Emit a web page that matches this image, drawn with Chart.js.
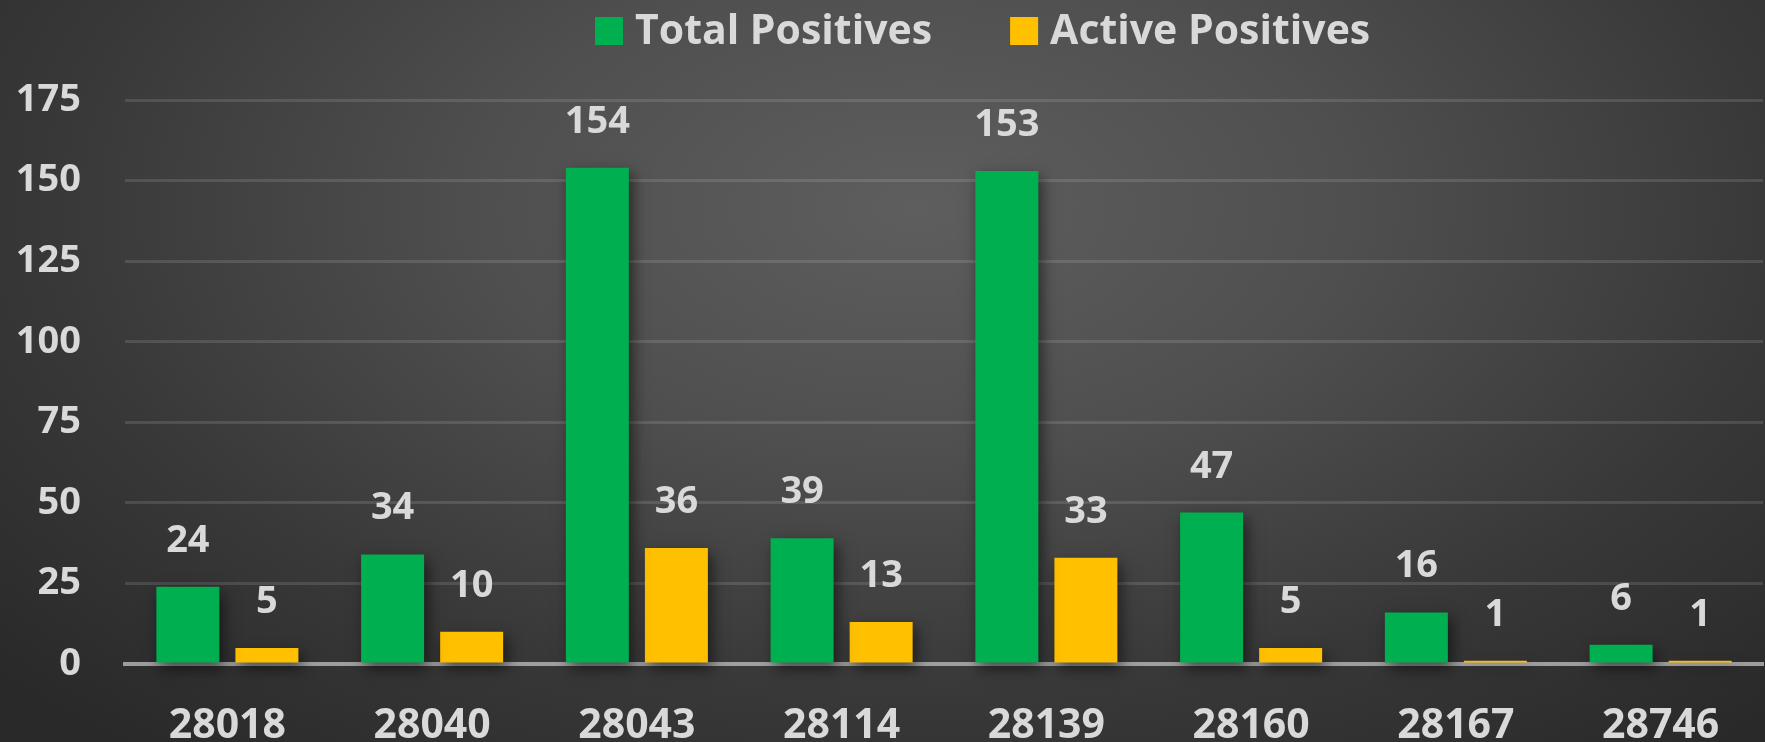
<!DOCTYPE html>
<html lang="en">
<head>
  <meta charset="UTF-8" />
  <title>Total / Active Positives</title>
  <script src="https://cdn.jsdelivr.net/npm/chart.js"></script>
  <style>
    html, body { margin: 0; padding: 0; background: #2a2a2a; }
    #fondo {
      width: 1765px;
      height: 742px;
      background: radial-gradient(ellipse 70% 95% at 52% 28%, #5e5e5e 0%, #4f4f4f 35%, #383838 70%, #292929 100%);
    }
  </style>
</head>
<body>
<div id="fondo"><canvas id="grafico" width="1765" height="742"></canvas></div>

<script>
  const zipCodes = ["28018", "28040", "28043", "28114", "28139", "28160", "28167", "28746"];
  const totalPositives = [24, 34, 154, 39, 153, 47, 16, 6];
  const activePositives = [5, 10, 36, 13, 33, 5, 1, 1];
  const yMax = 175;
  const yStep = 25;

  const FUENTE = '"Open Sans", "Noto Sans", sans-serif';
  const TEXTO = "#D9D9D9";

  // sombra de las barras + valores encima
  const sombraEtiquetas = {
    id: "sombraEtiquetas",
    beforeDatasetsDraw(chart) {
      const ctx = chart.ctx;
      ctx.save();
      ctx.shadowColor = "rgba(0,0,0,0.55)";
      ctx.shadowBlur = 14;
      ctx.shadowOffsetX = 4;
      ctx.shadowOffsetY = 6;
    },
    afterDatasetsDraw(chart) {
      const ctx = chart.ctx;
      ctx.restore();
      ctx.save();
      ctx.font = `bold 38px ${FUENTE}`;
      ctx.fillStyle = TEXTO;
      ctx.textAlign = "center";
      ctx.textBaseline = "alphabetic";
      chart.data.datasets.forEach((ds, i) => {
        chart.getDatasetMeta(i).data.forEach((bar, j) => {
          ctx.fillText(ds.data[j], bar.x, bar.y - 35);
        });
      });
      ctx.restore();
    }
  };

  const leyenda = {
    id: "leyenda",
    afterDraw(chart) {
      const ctx = chart.ctx;
      ctx.save();
      ctx.font = `bold 41px ${FUENTE}`;
      ctx.textBaseline = "alphabetic";
      let x = 595;
      chart.data.datasets.forEach(ds => {
        ctx.fillStyle = ds.backgroundColor;
        ctx.fillRect(x, 17, 28, 28);
        x += 40;
        ctx.fillStyle = TEXTO;
        ctx.fillText(ds.label, x, 44);
        x += ctx.measureText(ds.label).width + 78;
      });
      ctx.restore();
    }
  };

  new Chart(document.getElementById("grafico").getContext("2d"), {
    type: "bar",
    data: {
      labels: zipCodes,
      datasets: [
        {
          label: "Total Positives",
          data: totalPositives,
          backgroundColor: "#00B050",
          categoryPercentage: 0.772,
          barPercentage: 0.797,
          clip: false
        },
        {
          label: "Active Positives",
          data: activePositives,
          backgroundColor: "#FFC000",
          categoryPercentage: 0.772,
          barPercentage: 0.797,
          clip: false
        }
      ]
    },
    options: {
      responsive: false,
      animation: false,
      layout: { padding: { top: 100, right: 2, left: 0, bottom: 0 } },
      plugins: {
        legend: { display: false },
        tooltip: { enabled: false }
      },
      scales: {
        x: {
          z: 1,
          grid: { display: false, drawTicks: false },
          border: { display: true, color: "rgba(185,185,185,0.8)", width: 4 },
          ticks: {
            color: TEXTO,
            font: { family: FUENTE, size: 41, weight: "bold" },
            padding: 38
          },
          afterFit(s) { s.height = 78; }
        },
        y: {
          min: 0,
          max: yMax,
          ticks: {
            stepSize: yStep,
            color: TEXTO,
            font: { family: FUENTE, size: 38, weight: "bold" },
            padding: 44
          },
          grid: {
            color: c => (c.tick && c.tick.value === 0) ? "rgba(0,0,0,0)" : "rgba(255,255,255,0.12)",
            lineWidth: 3,
            drawTicks: false
          },
          border: { display: false },
          afterFit(s) { s.width = 125; }
        }
      }
    },
    plugins: [sombraEtiquetas, leyenda]
  });
</script>
</body>
</html>
